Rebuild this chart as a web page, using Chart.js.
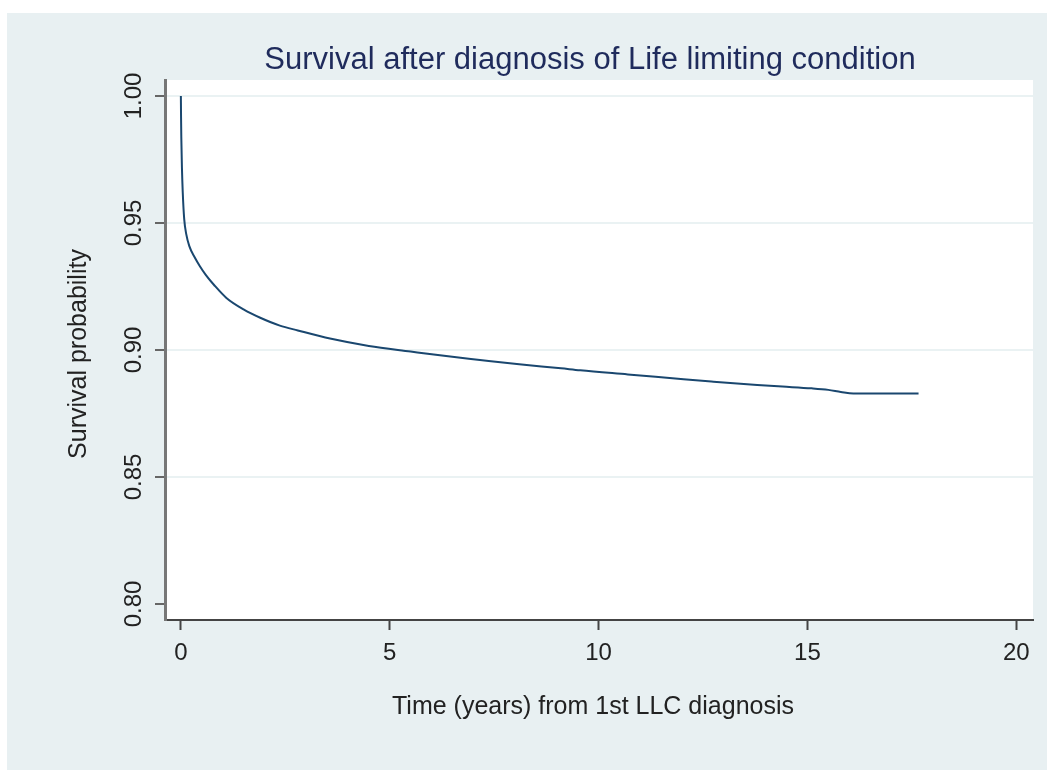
<!DOCTYPE html>
<html>
<head>
<meta charset="utf-8">
<script src="https://cdn.jsdelivr.net/npm/chart.js@4.4.1/dist/chart.umd.min.js"></script>
<style>
  html, body { margin: 0; padding: 0; background: #ffffff; width: 1047px; height: 770px; overflow: hidden; }
  #panel { position: absolute; left: 7px; top: 13px; width: 1040px; height: 757px; background: #e8f0f2; }
  canvas { display: block; }
</style>
</head>
<body>
<div id="panel"><canvas id="c" width="1040" height="757"></canvas></div>
<script>
const chartTitle = "Survival after diagnosis of Life limiting condition";
const xAxisTitle = "Time (years) from 1st LLC diagnosis";
const yAxisTitle = "Survival probability";
const xTickValues = [0, 5, 10, 15, 20];
const yTickValues = [0.80, 0.85, 0.90, 0.95, 1.00];
const yTickLabels = ["0.80", "0.85", "0.90", "0.95", "1.00"];
const timeYears = [0, 0.004, 0.01, 0.025, 0.045, 0.08, 0.13, 0.2, 0.33, 0.455, 0.6, 0.8, 1.09, 1.5, 1.9, 2.37, 2.8, 3.57, 4.5, 5.5, 6.3, 7.16, 8.1, 9.1, 9.56, 10.7, 11.7, 12.7, 13.8, 14.4, 15.1, 15.5, 15.8, 16.1, 17.66];
const survival  = [1.0, 0.992, 0.984, 0.972, 0.962, 0.9515, 0.9455, 0.941, 0.9365, 0.9330, 0.9295, 0.9255, 0.9205, 0.9160, 0.9127, 0.9096, 0.9077, 0.9045, 0.9016, 0.8994, 0.8977, 0.8961, 0.8944, 0.8928, 0.8920, 0.8904, 0.8890, 0.8876, 0.8862, 0.8856, 0.8849, 0.8843, 0.8835, 0.8829, 0.8829];

const points = timeYears.map((t, i) => ({ x: t, y: survival[i] }));

const textPlugin = {
  id: 'textPlugin',
  beforeDraw(chart) {
    const { ctx, chartArea } = chart;
    ctx.save();
    ctx.fillStyle = '#ffffff';
    ctx.fillRect(chartArea.left, chartArea.top, chartArea.right - chartArea.left, chartArea.bottom - chartArea.top);
    ctx.restore();
  },
  afterDraw(chart) {
    const { ctx } = chart;
    const xs = chart.scales.x, ys = chart.scales.y;
    ctx.save();
    ctx.fillStyle = '#1f2b5c';
    ctx.font = '31px "Liberation Sans", Arial, sans-serif';
    ctx.textAlign = 'center';
    ctx.textBaseline = 'alphabetic';
    ctx.fillText(chartTitle, 583, 56);
    ctx.fillStyle = '#222222';
    ctx.font = '24px "Liberation Sans", Arial, sans-serif';
    ctx.textAlign = 'center';
    xTickValues.forEach(v => ctx.fillText(String(v), xs.getPixelForValue(v), 647));
    yTickValues.forEach((v, i) => {
      const py = ys.getPixelForValue(v);
      ctx.save();
      ctx.translate(134, py);
      ctx.rotate(-Math.PI / 2);
      ctx.textAlign = 'center';
      ctx.fillText(yTickLabels[i], 0, 0);
      ctx.restore();
    });
    ctx.font = '25px "Liberation Sans", Arial, sans-serif';
    ctx.textAlign = 'center';
    ctx.fillText(xAxisTitle, 586, 701);
    ctx.save();
    ctx.translate(79, 341);
    ctx.rotate(-Math.PI / 2);
    ctx.textAlign = 'center';
    ctx.fillText(yAxisTitle, 0, 0);
    ctx.restore();
    ctx.restore();
  }
};

new Chart(document.getElementById('c'), {
  type: 'line',
  data: {
    datasets: [{
      data: points,
      borderColor: '#1a476f',
      borderWidth: 2,
      pointRadius: 0,
      fill: false,
      cubicInterpolationMode: 'monotone'
    }]
  },
  options: {
    responsive: false,
    animation: false,
    events: [],
    layout: { padding: { left: 0, right: 14, top: 67, bottom: 0 } },
    plugins: { legend: { display: false }, title: { display: false }, tooltip: { enabled: false } },
    scales: {
      x: {
        type: 'linear',
        min: -0.38,
        max: 20.4,
        afterBuildTicks: s => { s.ticks = xTickValues.map(v => ({ value: v })); },
        afterFit: s => { s.height = 150; },
        ticks: { display: false },
        grid: { drawOnChartArea: false, drawTicks: true, tickLength: 10, tickColor: '#444444', tickWidth: 2 },
        border: { display: true, color: '#444444', width: 2 }
      },
      y: {
        type: 'linear',
        min: 0.7937,
        max: 1.0063,
        afterBuildTicks: s => { s.ticks = yTickValues.map(v => ({ value: v })); },
        afterFit: s => { s.width = 158; },
        ticks: { display: false },
        grid: {
          drawOnChartArea: true,
          drawTicks: true,
          tickLength: 10,
          lineWidth: 2,
          color: ctx => (ctx.tick && Math.abs(ctx.tick.value - 0.80) < 1e-6) ? 'rgba(0,0,0,0)' : '#eaf2f3',
          tickColor: '#666666',
          tickWidth: 2
        },
        border: { display: true, color: '#777777', width: 3 }
      }
    }
  },
  plugins: [textPlugin]
});
</script>
</body>
</html>
